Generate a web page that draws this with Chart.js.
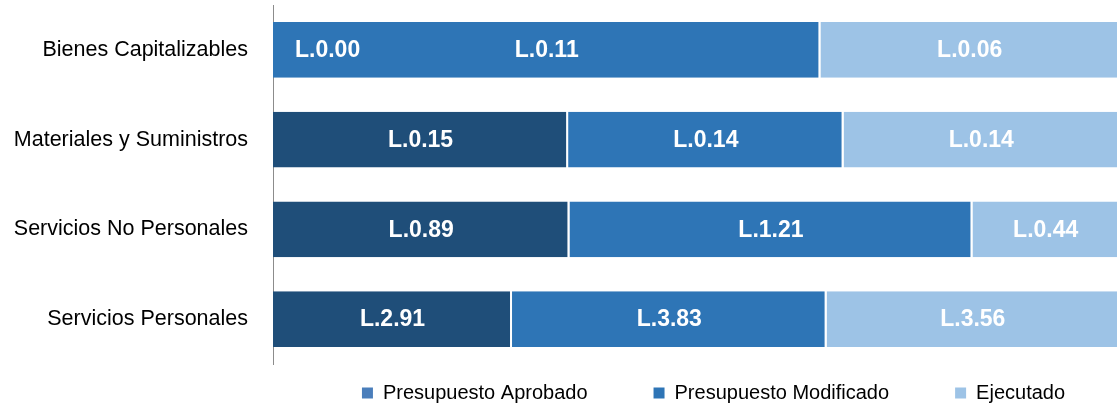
<!DOCTYPE html>
<html>
<head>
<meta charset="utf-8">
<script src="https://cdn.jsdelivr.net/npm/chart.js@4.4.1/dist/chart.umd.min.js"></script>
<style>
  html, body { margin: 0; padding: 0; background: #fff; }
  #wrap { width: 1119px; height: 404px; }
</style>
</head>
<body>
<div id="wrap"><canvas id="myBarChart"></canvas></div>
<script>
var categorias = ['Bienes Capitalizables', 'Materiales y Suministros', 'Servicios No Personales', 'Servicios Personales'];
var seriesNames = ['Presupuesto Aprobado', 'Presupuesto Modificado', 'Ejecutado'];
var aprobado = [0.00, 0.15, 0.89, 2.91];
var modificado = [0.11, 0.14, 1.21, 3.83];
var ejecutado = [0.06, 0.14, 0.44, 3.56];

var barColors = ['#1F4E79', '#2E75B6', '#9DC3E6'];
var legendColors = ['#4A7EBB', '#2E75B6', '#9DC3E6'];
var fontFamily = "'Liberation Sans Narrow', 'Arial Narrow', 'Liberation Sans', Arial, sans-serif";

var series = [aprobado, modificado, ejecutado];

// cada barra al 100%: porcentaje de cada serie sobre el total de la categoria
function toPercent(values) {
    var out = [];
    for (var i = 0; i < values.length; i++) {
        var total = aprobado[i] + modificado[i] + ejecutado[i];
        out.push(total ? values[i] / total * 100 : 0);
    }
    return out;
}

var datasets = [];
for (var s = 0; s < series.length; s++) {
    datasets.push({
        label: seriesNames[s],
        data: toPercent(series[s]),
        raw: series[s],
        backgroundColor: barColors[s],
        borderColor: '#ffffff',
        borderWidth: { top: 0, bottom: 0, left: 0, right: 2 },
        borderSkipped: false,
        categoryPercentage: 0.62,
        barPercentage: 1
    });
}

var valueLabels = {
    id: 'valueLabels',
    afterDatasetsDraw: function(chart) {
        var ctx = chart.ctx;
        ctx.save();
        ctx.font = 'bold 23px ' + fontFamily;
        ctx.fillStyle = '#ffffff';
        ctx.textBaseline = 'middle';
        chart.data.datasets.forEach(function(ds, di) {
            var meta = chart.getDatasetMeta(di);
            meta.data.forEach(function(bar, i) {
                var text = 'L.' + ds.raw[i].toFixed(2);
                var w = ctx.measureText(text).width;
                var left = Math.min(bar.x, bar.base);
                var width = Math.abs(bar.x - bar.base);
                if (width < w + 10) {
                    ctx.textAlign = 'left';
                    ctx.fillText(text, left + 22, bar.y + 1);
                } else {
                    ctx.textAlign = 'center';
                    ctx.fillText(text, left + width / 2, bar.y + 1);
                }
            });
        });
        ctx.restore();
    }
};

// mover la leyenda: el padding de Chart.js separa los items y tambien empuja hacia abajo
var legendPlace = {
    id: 'legendPlace',
    beforeDraw: function(chart) {
        var lg = chart.legend;
        if (!lg) return;
        var pad = lg.options.labels.padding;
        lg.top = 393 - 10 - pad;
        lg.left = 154;
        lg.right = chart.width + 154;
    }
};

var ctx = document.getElementById('myBarChart').getContext('2d');
var myChart = new Chart(ctx, {
    type: 'bar',
    data: {
        labels: categorias,
        datasets: datasets
    },
    plugins: [valueLabels, legendPlace],
    options: {
        indexAxis: 'y',
        responsive: true,
        maintainAspectRatio: false,
        animation: false,
        layout: { padding: { top: 5, right: 0, bottom: 0, left: 0 } },
        scales: {
            x: {
                display: false,
                stacked: true,
                min: 0,
                max: 100
            },
            y: {
                stacked: true,
                grid: { display: false, drawTicks: false },
                border: { display: true, color: '#8c8c8c', width: 1 },
                ticks: {
                    color: '#000000',
                    padding: 25,
                    font: { family: fontFamily, size: 21.5 }
                },
                afterFit: function(scale) {
                    scale.width = 273;
                    scale.paddingTop = 0;
                    scale.paddingBottom = 0;
                }
            }
        },
        plugins: {
            tooltip: { enabled: false },
            legend: {
                position: 'bottom',
                maxHeight: 40,
                labels: {
                    boxWidth: 11,
                    boxHeight: 11,
                    padding: 66,
                    color: '#000000',
                    font: { family: fontFamily, size: 20 },
                    generateLabels: function(chart) {
                        return chart.data.datasets.map(function(ds, i) {
                            return {
                                text: ds.label,
                                fillStyle: legendColors[i],
                                strokeStyle: legendColors[i],
                                lineWidth: 0,
                                fontColor: '#000000',
                                datasetIndex: i
                            };
                        });
                    }
                }
            }
        }
    }
});
</script>
</body>
</html>
